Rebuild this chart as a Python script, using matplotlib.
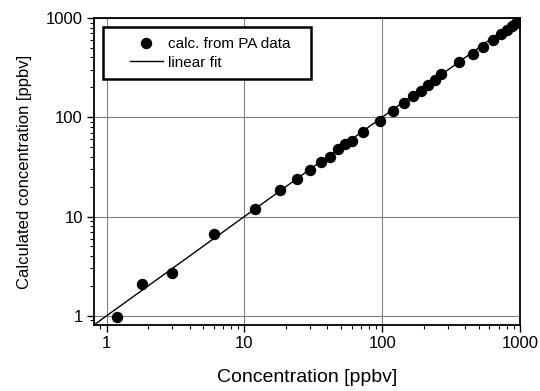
import numpy as np
import matplotlib.pyplot as plt
from matplotlib.legend_handler import HandlerLine2D

plt.rcParams['font.family'] = ['Liberation Sans', 'DejaVu Sans']

# concentrazione nominale e calcolata dai dati PA (ppbv)
conc = [1.2, 1.8, 3, 6, 12, 18, 24, 30, 36, 42, 48, 54, 60, 72, 96,
        120, 144, 168, 192, 216, 240, 268, 360, 455, 540, 635, 725, 805, 870, 930]
calc = [0.97, 2.1, 2.7, 6.6, 12, 18.5, 24, 29.5, 35.3, 40, 47.4, 54.4, 58.3, 70.7, 92,
        116, 138, 163, 182, 210, 237, 272, 357, 430, 508, 604, 683, 761, 827, 895]

# retta di fit
fit_slope = 1.0
fit_intercept = 0.0
x_fit = np.array([0.81, 1000])
y_fit = fit_slope * x_fit + fit_intercept

fig = plt.figure(figsize=(5.4, 3.91), dpi=100)
ax = fig.add_axes([0.174, 0.169, 0.789, 0.785])

ax.plot(conc, calc, 'o', color='black', markersize=7.2, label='calc. from PA data', zorder=3)
ax.plot(x_fit, y_fit, '-', color='black', linewidth=1.0, label='linear fit', zorder=2)

ax.set_xscale('log')
ax.set_yscale('log')
ax.set_xlim(0.81, 1000)
ax.set_ylim(0.81, 1000)
ax.set_xticks([1, 10, 100, 1000])
ax.set_xticklabels(['1', '10', '100', '1000'])
ax.set_yticks([1, 10, 100, 1000])
ax.set_yticklabels(['1', '10', '100', '1000'])

ax.grid(True, which='major', color='#808080', linewidth=0.8)
ax.tick_params(which='major', direction='out', length=5, width=1.0, labelsize=12, pad=3)
ax.tick_params(which='minor', direction='out', length=3, width=0.8)
for s in ax.spines.values():
    s.set_linewidth(1.3)

ax.set_xlabel('Concentration [ppbv]', fontsize=14, labelpad=13)
ax.set_ylabel('Calculated concentration [ppbv]', fontsize=12, labelpad=10)

# legenda: riquadro largo con margine a sinistra del simbolo
leg = ax.legend(loc='upper left', bbox_to_anchor=(0, 0, 0.531, 1), mode='expand',
                fontsize=11, fancybox=False, framealpha=1, edgecolor='black',
                borderaxespad=0.59, handlelength=3.27, handletextpad=0.33,
                borderpad=0.65, labelspacing=0.3,
                handler_map={plt.Line2D: HandlerLine2D(xpad=1.1)})
leg.get_frame().set_linewidth(1.8)

fig.savefig('out.png', dpi=100)
